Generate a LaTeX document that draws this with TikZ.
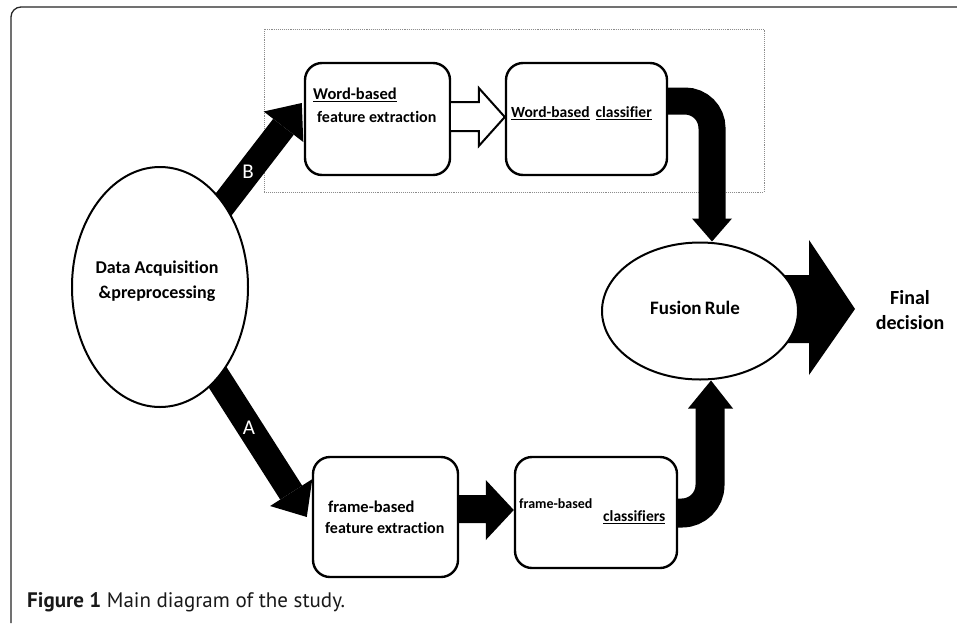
\documentclass[tikz,border=0pt]{standalone}
\usepackage{fontspec}
\setmainfont[Ligatures=NoCommon]{Carlito}
\newfontfamily\capfont{PT Sans}
\usetikzlibrary{calc,shapes.geometric,backgrounds}
\begin{document}
\begin{tikzpicture}[x=1pt,y=-1pt,
  box/.style={draw,line width=2.4pt,rounded corners=17pt,fill=white,inner sep=0pt},
  oval/.style={ellipse,draw,line width=2pt,fill=white,inner sep=0pt},
  txt/.style={inner sep=0pt,anchor=west,font=\bfseries\fontsize{#1}{#1}\selectfont},
  ctxt/.style={inner sep=0pt,align=center,font=\bfseries\fontsize{#1}{25.5}\selectfont},
  armlbl/.style={inner sep=0pt,text=white,font=\fontsize{21}{21}\selectfont},
]
\useasboundingbox (0,0) rectangle (957,627);
\begin{scope}[on background layer]
  \fill[white] (0,0) rectangle (957,627);
\end{scope}

% frame of the figure
\draw[line width=1.3pt,black!85,rounded corners=10pt] (11,623) -- (11,7) -- (957,7);

% nodes
\node[oval,minimum width=176pt,minimum height=240pt] (data) at (160,287) {};
\node[box,minimum width=145pt,minimum height=112pt] (wfe) at (377.5,119) {};
\node[box,minimum width=161pt,minimum height=112pt] (wcl) at (586.5,119) {};
\node[box,minimum width=145pt,minimum height=120pt] (ffe) at (385.5,517) {};
\node[box,minimum width=162pt,minimum height=111pt] (fcl) at (596,512.5) {};
\node[oval,minimum width=196pt,minimum height=137pt] (fusion) at (700,311) {};

% texts
\node[ctxt=18] (datat) at (157,281) {Data Acquisition\\\&preprocessing};
\node[txt=16.5] (wfe1) at (313,95) {\underline{Word-based}};
\node[txt=16] (wfe2) at (317,117) {feature extraction};
\node[txt=15.5] (wcl1) at (511,113) {\underline{Word-based}\hspace{6pt}\underline{classifier}};
\node[txt=16.5] (ffe1) at (328,507) {frame-based};
\node[txt=16] (ffe2) at (325,528) {feature extraction};
\node[txt=14] (fcl1) at (519,504) {frame-based};
\node[txt=15.5] (fcl2) at (603,517) {\underline{classifiers}};
\node[ctxt=19] (fust) at (695,308) {Fusion\,Rule};
\node[ctxt=20] (final) at (910,310) {Final\\decision};

% hollow arrow between the word-based boxes
\draw[line width=2pt,fill=white,line join=miter]
  ($(wfe.east)+(0,-17)$) -- ($(wcl.west)+(-26,-17)$) -- ($(wcl.west)+(-26,-31)$)
  -- ($(wcl.west)+(0,-2)$) -- ($(wcl.west)+(-26,27)$) -- ($(wcl.west)+(-26,12)$)
  -- ($(wfe.east)+(0,12)$);

% black arrow between the frame-based boxes
\fill ($(ffe.east)+(0,-22)$) -- ($(fcl.west)+(-28,-17.5)$) -- ($(fcl.west)+(-28,-32.5)$)
  -- ($(fcl.west)+(0,-2.5)$) -- ($(fcl.west)+(-28,27.5)$) -- ($(fcl.west)+(-28,10.5)$)
  -- ($(ffe.east)+(0,6)$) -- cycle;

\begin{scope}[on background layer]
  % dotted group frame
  \draw[black!45,line width=0.9pt,densely dotted] (264,29) rectangle (764,192);
  % B arm
  \coordinate (btip) at ($(wfe.west)+(-2,-16)$);
  \coordinate (bbase) at ($(btip)!30pt!(data.center)$);
  \draw[line width=26pt] (data.center) -- (bbase);
  \fill (btip) -- ($(bbase)!25pt!90:(btip)$) -- ($(bbase)!25pt!-90:(btip)$) -- cycle;
  % A arm
  \coordinate (atip) at ($(ffe.west)+(-5,0)$);
  \coordinate (abase) at ($(atip)!29pt!(data.center)$);
  \draw[line width=26pt] (data.center) -- (abase);
  \fill (atip) -- ($(abase)!25pt!90:(atip)$) -- ($(abase)!25pt!-90:(atip)$) -- cycle;
  % word-based classifier -> fusion
  \draw[line width=27pt,rounded corners=27pt] ($(wcl.east)+(-2,-18)$) -| ($(fusion.north)+(12,-22)$);
  \fill ($(fusion.north)+(-8,-23)$) -- ($(fusion.north)+(32,-23)$) -- ($(fusion.north)+(12,0)$) -- cycle;
  % frame-based classifiers -> fusion
  \draw[line width=29pt,rounded corners=28pt] ($(fcl.east)+(-2,0.5)$) -| ($(fusion.south)+(10,27)$);
  \fill ($(fusion.south)+(-12,28)$) -- ($(fusion.south)+(33,28)$) -- ($(fusion.south)+(11,0)$) -- cycle;
  % fusion -> final decision
  \fill ($(fusion.center)+(0,-36)$) -- ($(fusion.east)+(10,-36)$) -- ($(fusion.east)+(10,-71)$)
    -- ($(fusion.east)+(56,-2)$) -- ($(fusion.east)+(10,64)$) -- ($(fusion.east)+(10,32)$)
    -- ($(fusion.center)+(0,32)$) -- cycle;
\end{scope}

% arm labels
\node[armlbl] (blbl) at (248,172) {B};
\node[armlbl] (albl) at (249,428) {A};

% caption
\node[anchor=base west,inner sep=0pt,text=black!90,font=\capfont\fontsize{21}{24}\selectfont] (cap) at (27,607)
  {\textbf{Figure 1} Main diagram of the study.};
\end{tikzpicture}
\end{document}
